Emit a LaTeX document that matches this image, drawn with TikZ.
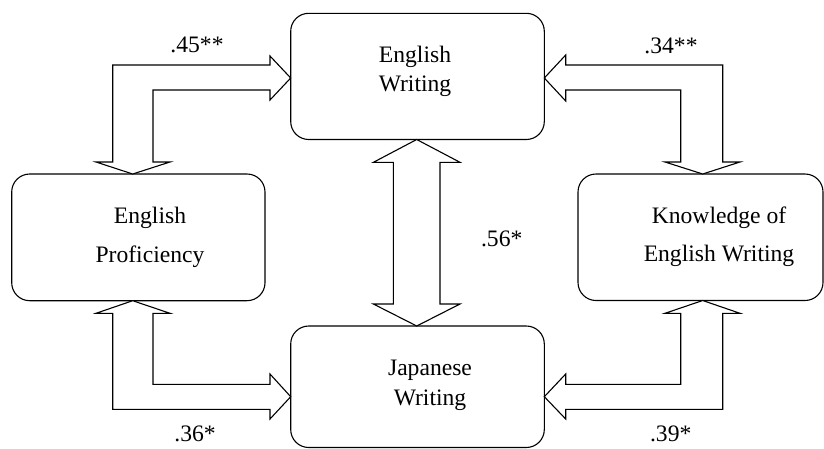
\documentclass[tikz,border=0pt]{standalone}
\usepackage{fontspec}
\setmainfont{Liberation Serif}
\begin{document}
\begin{tikzpicture}[x=1pt,y=-1pt,
  box/.style={draw, line width=1.1pt, rounded corners=18pt, inner sep=0pt, outer sep=0pt},
  txt/.style={anchor=base, inner sep=0pt, font=\fontsize{23.6}{28}\selectfont},
  bigarrow/.style={draw, line width=1.1pt, fill=white, line join=miter}]
\useasboundingbox (0,0) rectangle (824,448);
% boxes
\node[box, minimum width=253.6pt, minimum height=126.2pt] (ew) at (417.5,76.4) {};
\node[box, minimum width=253.3pt, minimum height=126.7pt] (ep) at (138.35,237.35) {};
\node[box, minimum width=245pt, minimum height=126.5pt] (kew) at (700.5,237.25) {};
\node[box, minimum width=253.6pt, minimum height=121.5pt] (jw) at (417.5,386.75) {};
% texts
\node[txt] (ew1) at (415,62.3) {English};
\node[txt] (ew2) at (415,91.7) {Writing};
\node[txt] (ep1) at (150,223.3) {English};
\node[txt] (ep2) at (150,262.7) {Proficiency};
\node[txt] (kw1) at (719,223.3) {Knowledge of};
\node[txt] (kw2) at (719,261.7) {English Writing};
\node[txt] (jw1) at (430,375) {Japanese};
\node[txt] (jw2) at (430,405) {Writing};
% top-left arrow EW <-> EP
\draw[bigarrow] (290.7,78) -- (270,100) -- (270,90) -- (153,90) -- (153,162) -- (170,162)
  -- (132.7,174) -- (96,162) -- (112.7,162) -- (112.7,65) -- (270,65) -- (270,56) -- cycle;
% top-right arrow EW <-> KEW
\draw[bigarrow] (544.3,78) -- (565.7,55) -- (565.7,65) -- (722.7,65) -- (722.7,162) -- (740,162)
  -- (702.7,174) -- (665,162) -- (680.7,162) -- (680.7,90) -- (565.7,90) -- (565.7,101) -- cycle;
% bottom-left arrow EP <-> JW
\draw[bigarrow] (132.7,300.7) -- (170,313.3) -- (153,313.3) -- (153,384.3) -- (270,384.3) -- (270,374)
  -- (290.7,396.7) -- (270,419) -- (270,409.3) -- (112.7,409.3) -- (112.7,313.3) -- (96,313.3) -- cycle;
% bottom-right arrow KEW <-> JW
\draw[bigarrow] (702.7,300.5) -- (740,313.3) -- (722.7,313.3) -- (722.7,409.3) -- (565.7,409.3) -- (565.7,419)
  -- (544.3,396.7) -- (565.7,374) -- (565.7,384.3) -- (680.7,384.3) -- (680.7,313.3) -- (665,313.3) -- cycle;
% centre arrow EW <-> JW
\draw[bigarrow] (416.7,139.5) -- (460,162.3) -- (440,162.3) -- (440,304) -- (460,304) -- (416.7,326)
  -- (373.4,304) -- (393.4,304) -- (393.4,162.3) -- (373.4,162.3) -- cycle;
% labels
\node[txt] (l45) at (197,52.7) {.45**};
\node[txt] (l34) at (671,53.3) {.34**};
\node[txt] (l36) at (195,441.7) {.36*};
\node[txt] (l39) at (670.7,441.7) {.39*};
\node[txt] (l56) at (501.7,246.7) {.56*};
\end{tikzpicture}
\end{document}
